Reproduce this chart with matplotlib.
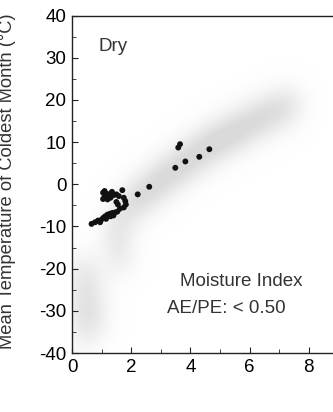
import numpy as np
import matplotlib
matplotlib.use("Agg")
import matplotlib.pyplot as plt
from matplotlib.colors import LinearSegmentedColormap

plt.rcParams['font.family'] = ['Liberation Sans', 'DejaVu Sans']
plt.rcParams['axes.unicode_minus'] = False

# dry sites (moisture index AE/PE < 0.50)
site_x = [0.66, 0.78, 0.88, 0.98, 1.05, 1.12, 1.20, 1.28, 1.36, 1.45, 1.53, 0.95, 1.15, 1.30, 1.40,
          1.05, 1.10, 1.15, 1.20, 1.10, 1.20, 1.30, 1.30, 1.35, 1.05, 1.40, 1.50, 1.58,
          1.75, 1.80, 1.82, 1.75, 1.62, 1.55, 1.50, 1.70, 2.22, 2.61,
          3.49, 3.59, 3.65, 3.83, 4.30, 4.64]
site_y = [-9.4, -9.0, -8.6, -8.5, -8.0, -7.6, -7.2, -7.0, -6.8, -6.7, -6.5, -9.0, -8.2, -7.6, -7.4,
          -2.0, -1.6, -2.2, -2.8, -3.0, -3.6, -2.2, -3.2, -1.8, -3.5, -2.6, -2.4, -2.8,
          -3.2, -4.0, -4.8, -5.5, -5.8, -4.8, -4.2, -1.4, -2.4, -0.6,
          3.9, 8.7, 9.5, 5.4, 6.5, 8.3]

# grey cloud of all sites (approximate ridge points and weights)
cloud_x = [1.8, 2.2, 2.6, 3.0, 3.4, 3.8, 4.2, 4.6, 5.0, 5.4, 5.8, 6.2, 6.6, 7.0, 7.4,
           1.5, 1.55, 1.6, 0.3, 0.35, 0.4, 0.4, 0.7, 0.75, 0.8]
cloud_y = [-6, -3.5, -1.5, 1, 3, 5, 7, 9, 10.5, 12, 13.5, 15, 16.5, 17.5, 19,
           -10, -14, -18, -20, -25, -30, -35, -22, -28, -33]
cloud_w = [0.8, 0.9, 1.0, 1.0, 1.0, 1.0, 1.0, 1.0, 1.0, 1.0, 0.9, 0.9, 0.8, 0.8, 0.7,
           0.6, 0.6, 0.5, 0.5, 0.6, 0.7, 0.6, 0.4, 0.4, 0.4]

fig = plt.figure(figsize=(3.33, 4.12), dpi=100)
ax = fig.add_axes([72/333, 59/412, 296/333, 337.5/412])
ax.set_xlim(0, 10)
ax.set_ylim(-40, 40)

gx, gy = np.meshgrid(np.linspace(0, 10, 400), np.linspace(-40, 40, 400))
field = np.zeros_like(gx)
for cx, cy, w in zip(cloud_x, cloud_y, cloud_w):
    field += w * np.exp(-0.5 * (((gx - cx) / 0.42) ** 2 + ((gy - cy) / 3.6) ** 2))
cmap = LinearSegmentedColormap.from_list('cloud', ['white', '#dadada'])
ax.imshow(field, extent=(0, 10, -40, 40), origin='lower', aspect='auto',
          cmap=cmap, vmin=0, vmax=field.max() * 0.9, zorder=0)

ax.scatter(site_x, site_y, s=18, color='#111111', edgecolors='none', zorder=3)

ax.set_xticks([0, 2, 4, 6, 8])
ax.set_xticks([1, 3, 5, 7, 9], minor=True)
ax.set_yticks(range(-40, 41, 10))
ax.set_yticks(range(-35, 40, 10), minor=True)
ax.tick_params(which='both', direction='in', labelsize=13.5, color='#222222')
ax.tick_params(which='major', length=4, pad=4)
ax.tick_params(which='minor', length=3)
ax.spines['right'].set_visible(False)
for s in ['left', 'bottom', 'top']:
    ax.spines[s].set_color('#222222')
    ax.spines[s].set_linewidth(1.0)

ax.set_ylabel('Mean Temperature of Coldest Month (°C)', fontsize=13.2, color='#333333')
ax.yaxis.set_label_coords(-56 / 296, 0.51)

ax.text(0.88, 31.7, 'Dry', fontsize=13.5, color='#333333')
ax.text(5.71, -24.1, 'Moisture Index', fontsize=13.5, color='#333333', ha='center')
ax.text(5.2, -30.5, 'AE/PE: < 0.50', fontsize=13.5, color='#333333', ha='center')

fig.savefig('out.png', dpi=100)
